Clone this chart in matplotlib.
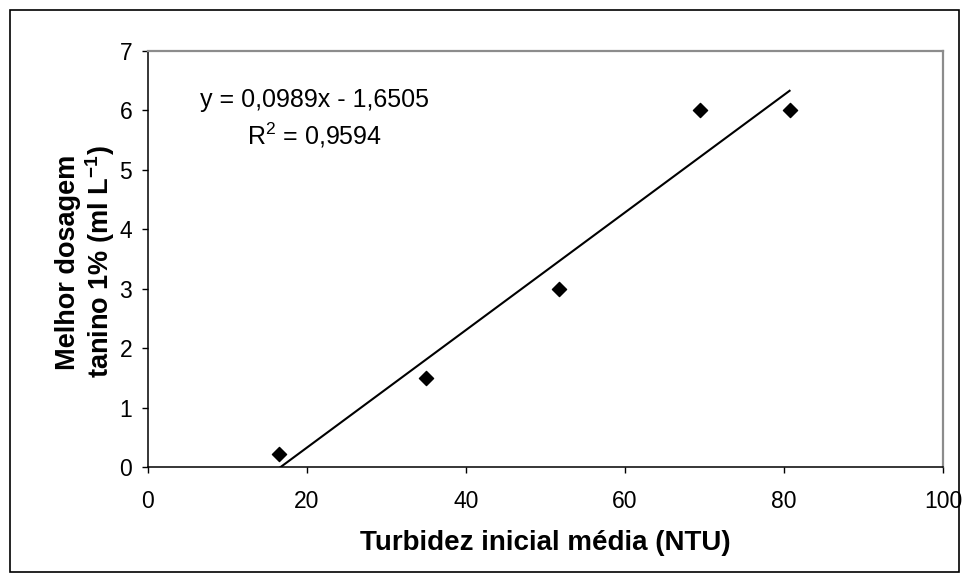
import matplotlib
matplotlib.use("Agg")
import matplotlib.pyplot as plt
from matplotlib.patches import Rectangle
import numpy as np

# ---- data ----
turbidez = [16.5, 35.0, 51.7, 69.4, 80.7]
dosagem = [0.22, 1.5, 3.0, 6.0, 6.0]
slope = 0.0989
intercept = -1.6505
eq_text = "y = 0,0989x - 1,6505"
r2_text = "R$^2$ = 0,9594"
xticks = [0, 20, 40, 60, 80, 100]
yticks = [0, 1, 2, 3, 4, 5, 6, 7]
xlabel = "Turbidez inicial média (NTU)"
ylabel1 = "Melhor dosagem"
ylabel2 = r"tanino 1% (ml L$^{\mathbf{-1}}$)"

plt.rcParams['font.family'] = ['Liberation Sans', 'DejaVu Sans']
plt.rcParams['mathtext.fontset'] = 'custom'
plt.rcParams['mathtext.rm'] = 'Liberation Sans'
plt.rcParams['mathtext.bf'] = 'Liberation Sans:bold'
plt.rcParams['mathtext.it'] = 'Liberation Sans:italic'

W, H = 969, 582
fig = plt.figure(figsize=(W / 100, H / 100), dpi=100)
ax = fig.add_axes([148 / W, 1 - 467 / H, (943 - 148) / W, (467 - 51) / H])

ax.scatter(turbidez, dosagem, marker='D', s=7.2**2, color='black', zorder=3)
xl = np.array([min(turbidez), max(turbidez)])
ax.plot(xl, slope * xl + intercept, color='black', lw=1.5, zorder=2)

ax.set_xlim(0, 100)
ax.set_ylim(0, 7)
ax.set_xticks(xticks)
ax.set_yticks(yticks)
ax.tick_params(axis='both', direction='out', length=4.3, width=1.0, color='black',
               labelsize=16.5)
ax.tick_params(axis='x', pad=12)
ax.tick_params(axis='y', pad=7)

for side in ['top', 'right']:
    ax.spines[side].set_color('#8c8c8c')
    ax.spines[side].set_linewidth(1.6)
for side in ['left', 'bottom']:
    ax.spines[side].set_color('black')
    ax.spines[side].set_linewidth(1.1)

ax.set_xlabel(xlabel, fontsize=20, fontweight='bold', va='center')
ax.xaxis.set_label_coords(0.5, (467 - 543) / 416)

fig.text(68 / W, 1 - 262 / H, ylabel1, rotation=90, ha='center', va='center',
         fontsize=19.5, fontweight='bold')
fig.text(100 / W, 1 - 262 / H, ylabel2, rotation=90, ha='center', va='center',
         fontsize=19.5, fontweight='bold')

ax.text((314 - 148) / 795, (467 - 107) / 416, eq_text, transform=ax.transAxes,
        ha='center', va='baseline', fontsize=18)
ax.text((314 - 148) / 795, (467 - 145) / 416, r2_text, transform=ax.transAxes,
        ha='center', va='baseline', fontsize=18)

fig.patches.append(Rectangle((9.5 / W, 1 - 572 / H), (959 - 9.5) / W, (572 - 10) / H,
                             transform=fig.transFigure, fill=False,
                             edgecolor='black', lw=1.2))

fig.savefig("out.png", dpi=100)
